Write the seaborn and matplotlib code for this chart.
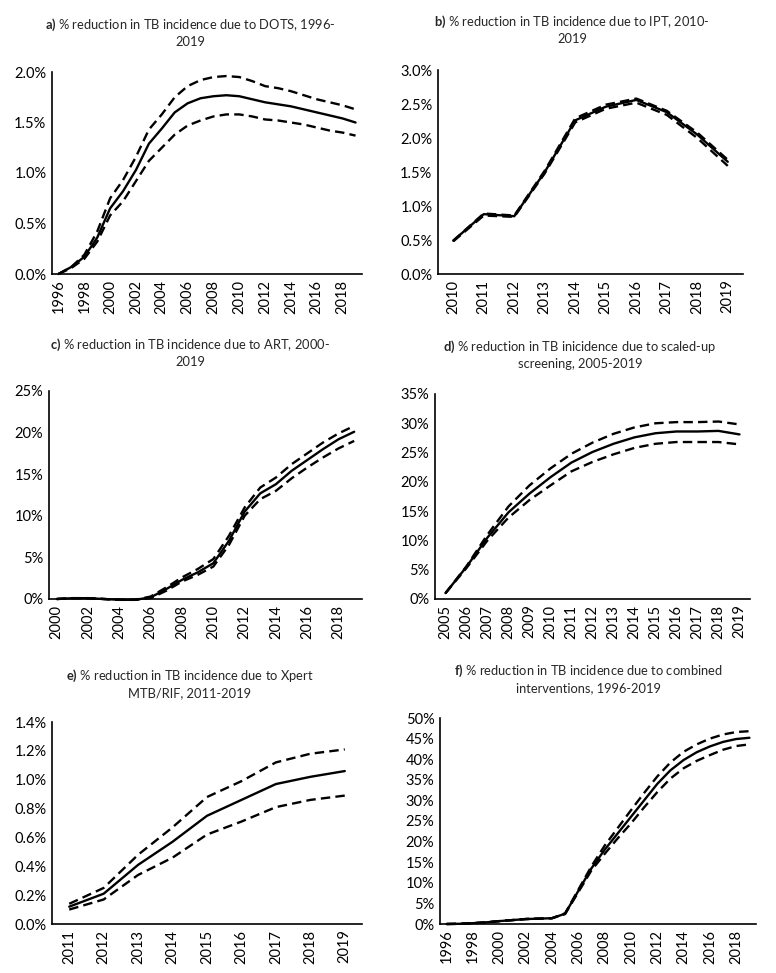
"""
% reduction in TB incidence by intervention, six panels
"""

import matplotlib.pyplot as plt
import matplotlib.ticker as mticker
import numpy as np
import pandas as pd
import seaborn as sns

# a) DOTS, 1996-2019
dots_years = list(range(1996, 2020))
dots_mid = [0.00, 0.07, 0.17, 0.36, 0.65, 0.82, 1.03, 1.29, 1.44, 1.60, 1.69, 1.74,
            1.76, 1.77, 1.76, 1.73, 1.70, 1.68, 1.66, 1.63, 1.60, 1.57, 1.54, 1.50]
dots_hi = [0.00, 0.07, 0.19, 0.42, 0.75, 0.93, 1.16, 1.43, 1.58, 1.75, 1.86, 1.92,
           1.95, 1.96, 1.95, 1.91, 1.86, 1.84, 1.81, 1.77, 1.73, 1.70, 1.67, 1.63]
dots_lo = [0.00, 0.06, 0.15, 0.32, 0.58, 0.72, 0.92, 1.12, 1.25, 1.38, 1.47, 1.52,
           1.56, 1.58, 1.58, 1.56, 1.53, 1.52, 1.50, 1.48, 1.45, 1.42, 1.40, 1.37]

# b) IPT, 2010-2019
ipt_years = list(range(2010, 2020))
ipt_mid = [0.49, 0.88, 0.85, 1.50, 2.26, 2.46, 2.56, 2.38, 2.05, 1.65]
ipt_hi = [0.49, 0.89, 0.86, 1.52, 2.29, 2.49, 2.58, 2.40, 2.08, 1.68]
ipt_lo = [0.48, 0.86, 0.84, 1.48, 2.23, 2.43, 2.52, 2.34, 2.00, 1.59]

# c) ART, 2000-2019
art_years = list(range(2000, 2020))
art_mid = [0.0, 0.1, 0.1, 0.0, -0.1, -0.1, 0.2, 1.2, 2.3, 3.2, 4.3, 7.0,
           10.5, 12.7, 13.8, 15.4, 16.7, 18.0, 19.2, 20.1]
art_hi = [0.0, 0.1, 0.1, 0.0, -0.1, -0.1, 0.3, 1.4, 2.6, 3.6, 4.8, 7.6,
          11.0, 13.4, 14.6, 16.2, 17.5, 18.8, 19.9, 20.8]
art_lo = [0.0, 0.1, 0.1, 0.0, -0.1, -0.1, 0.1, 1.0, 2.1, 2.9, 3.9, 6.5,
          10.0, 12.0, 13.0, 14.5, 15.8, 17.0, 18.1, 19.0]

# d) scaled-up screening, 2005-2019
scr_years = list(range(2005, 2020))
scr_mid = [1.0, 5.5, 10.5, 14.8, 18.0, 20.8, 23.3, 25.1, 26.5, 27.6, 28.3, 28.6, 28.6, 28.7, 28.1]
scr_hi = [1.0, 5.6, 11.0, 15.8, 19.4, 22.3, 24.8, 26.7, 28.2, 29.3, 30.0, 30.2, 30.2, 30.3, 29.8]
scr_lo = [1.0, 5.3, 10.0, 13.9, 16.9, 19.4, 21.8, 23.4, 24.7, 25.8, 26.5, 26.8, 26.8, 26.8, 26.4]

# e) Xpert MTB/RIF, 2011-2019
xp_years = list(range(2011, 2020))
xp_mid = [0.12, 0.21, 0.41, 0.57, 0.75, 0.86, 0.97, 1.02, 1.06]
xp_hi = [0.14, 0.25, 0.48, 0.67, 0.88, 0.99, 1.12, 1.18, 1.21]
xp_lo = [0.10, 0.17, 0.34, 0.46, 0.62, 0.71, 0.81, 0.86, 0.89]

# f) combined interventions, 1996-2019
comb_years = list(range(1996, 2020))
comb_mid = [0.0, 0.05, 0.2, 0.4, 0.7, 0.95, 1.2, 1.3, 1.4, 2.5, 8.0, 13.5,
            18.0, 22.0, 26.0, 30.0, 34.0, 37.3, 39.8, 41.7, 43.1, 44.2, 44.9, 45.2]
comb_hi = [0.0, 0.05, 0.2, 0.4, 0.7, 0.95, 1.2, 1.3, 1.4, 2.6, 8.3, 14.0,
           19.0, 23.3, 27.6, 31.8, 35.8, 39.2, 41.8, 43.6, 45.0, 46.0, 46.6, 46.8]
comb_lo = [0.0, 0.05, 0.2, 0.4, 0.7, 0.95, 1.2, 1.3, 1.4, 2.4, 7.7, 13.0,
           17.0, 20.8, 24.4, 28.3, 32.0, 35.3, 37.8, 39.6, 41.0, 42.3, 43.2, 43.6]

titles = [
    ("a)", "% reduction in TB incidence due to DOTS, 1996-", "2019"),
    ("b)", "% reduction in TB incidence due to IPT, 2010-", "2019"),
    ("c)", "% reduction in TB incidence due to ART, 2000-", "2019"),
    ("d)", "% reduction in TB inicidence due to scaled-up", "screening, 2005-2019"),
    ("e)", "% reduction in TB incidence due to Xpert", "MTB/RIF, 2011-2019"),
    ("f)", "% reduction in TB incidence due to combined", "interventions, 1996-2019"),
]

sns.set_style("white")
plt.rcParams["font.family"] = ["Lato", "DejaVu Sans"]
plt.rcParams["mathtext.fontset"] = "custom"
plt.rcParams["mathtext.rm"] = "Lato"
plt.rcParams["mathtext.bf"] = "Lato:bold"

W, H = 776, 973
fig = plt.figure(figsize=(W / 100, H / 100), dpi=100)

# (data, ymax, ystep, decimals, label step, axes box px [l, r, t, b], title centre px [x, y1])
panels = [
    ((dots_years, dots_mid, dots_hi, dots_lo), 2.0, 0.5, 1, 2, (52, 362, 72, 274), (190, 25)),
    ((ipt_years, ipt_mid, ipt_hi, ipt_lo), 3.0, 0.5, 1, 1, (438, 743, 70, 274), (572, 22)),
    ((art_years, art_mid, art_hi, art_lo), 25, 5, 0, 2, (49, 362, 391, 599), (190, 345)),
    ((scr_years, scr_mid, scr_hi, scr_lo), 35, 5, 0, 1, (435, 750, 394, 599), (580, 347)),
    ((xp_years, xp_mid, xp_hi, xp_lo), 1.4, 0.2, 1, 1, (52, 362, 722, 924), (190, 676)),
    ((comb_years, comb_mid, comb_hi, comb_lo), 50, 5, 0, 2, (440, 756, 718, 924), (588, 671)),
]

for (data, ymax, ystep, dec, lstep, box, tpos), (lab, t1, t2) in zip(panels, titles):
    years, mid, hi, lo = data
    l, r, t, b = box
    ax = fig.add_axes([l / W, 1 - b / H, (r - l) / W, (b - t) / H])

    df = pd.DataFrame({"year": years, "mid": mid, "hi": hi, "lo": lo})
    sns.lineplot(data=df, x="year", y="mid", ax=ax, color="black", lw=1.7, clip_on=False)
    for col in ["hi", "lo"]:
        sns.lineplot(data=df, x="year", y=col, ax=ax, color="black", lw=1.7,
                     dashes=(4, 2.2), clip_on=False)

    ax.set_xlim(years[0] - 0.5, years[-1] + 0.5)
    ax.set_ylim(0, ymax)
    ax.set_yticks(np.arange(0, ymax + ystep / 2, ystep))
    ax.yaxis.set_major_formatter(mticker.FuncFormatter(lambda v, p, d=dec: f"{v:.{d}f}%"))
    ax.set_xticks(years[::lstep])
    ax.set_xticklabels([str(y) for y in years[::lstep]], rotation=90)
    ax.tick_params(axis="both", length=0, labelsize=10.5, colors="black", pad=4)
    ax.set_xlabel("")
    ax.set_ylabel("")

    for side in ["top", "right"]:
        ax.spines[side].set_visible(False)
    for side in ["left", "bottom"]:
        ax.spines[side].set_color("black")
        ax.spines[side].set_linewidth(1.2)

    tx, ty = tpos
    fig.text(tx / W, 1 - ty / H, r"$\mathbf{" + lab + "}$ " + t1,
             ha="center", va="center", fontsize=9.3)
    fig.text(tx / W, 1 - (ty + 17) / H, t2, ha="center", va="center", fontsize=9.3)

fig.savefig("out.png", dpi=100)
